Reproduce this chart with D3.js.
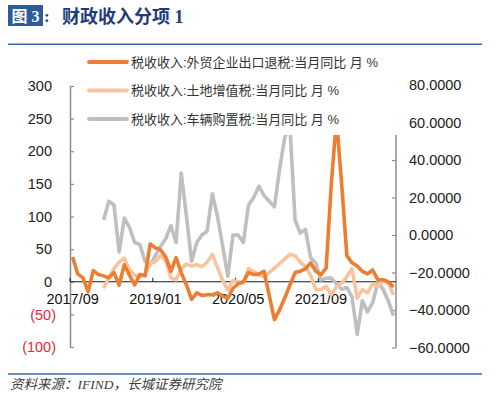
<!DOCTYPE html>
<html lang="zh">
<head>
<meta charset="UTF-8">
<script src="https://d3js.org/d3.v7.min.js"></script>
<style>
    body { margin: 0; background: #fff; }
    svg { display: block; }
    text { font-family: "Liberation Sans", Arial, "Noto Sans CJK SC", sans-serif; }
</style>
</head>
<body>
<svg id="chart" width="500" height="399"></svg>
<script>
    // months 2017/09 .. 2022/11
    const months = [
        "2017/09", "2017/10", "2017/11", "2017/12",
        "2018/01", "2018/02", "2018/03", "2018/04", "2018/05", "2018/06", "2018/07", "2018/08", "2018/09", "2018/10", "2018/11", "2018/12",
        "2019/01", "2019/02", "2019/03", "2019/04", "2019/05", "2019/06", "2019/07", "2019/08", "2019/09", "2019/10", "2019/11", "2019/12",
        "2020/01", "2020/02", "2020/03", "2020/04", "2020/05", "2020/06", "2020/07", "2020/08", "2020/09", "2020/10", "2020/11", "2020/12",
        "2021/01", "2021/02", "2021/03", "2021/04", "2021/05", "2021/06", "2021/07", "2021/08", "2021/09", "2021/10", "2021/11", "2021/12",
        "2022/01", "2022/02", "2022/03", "2022/04", "2022/05", "2022/06", "2022/07", "2022/08", "2022/09", "2022/10", "2022/11"
    ];
    const shownMonths = ["2017/09", "2019/01", "2020/05", "2021/09"];

    // 外贸企业出口退税 (left axis)
    const exportRebate = [
        38, 12, 6, -15, 17, 11, 9, 6, 14, -5, 26, 10, -5, 11, 9, 58,
        52, 49, 38, 16, 37, 14, -5, -27, -17, -21, -20, -20,
        -17, -22, -25, -10, -3, 0, 14, 11, 12, 16, -21, -58,
        -43, -25, -5, 14, 16, 20, 29, 16, 11, 21, 150, 250,
        150, 40, 29, 24, 16, 12, 18, 3, 3, 0, -8
    ];
    // 土地增值税 (left axis)
    const landVat = [
        null, null, null, null, null, null, -10, 6, 20, 30, 36, 18, 10, 8, 11, 28,
        31, 40, 32, 6, 3, 20, 27, 24, 26, 23, 30, 42,
        22, 2, -13, 2, 0, -2, 20, 16, 10, 8, 14, 21,
        28, 35, 42, 40, 30, 23, 10, -12, -12, -7, -20, -8,
        -2, 8, 20, -25, -12, -17, -3, -7, 2, -2, -20
    ];
    // 车辆购置税 (right axis)
    const vehicleTax = [
        null, null, null, null, null, null, 8, 18, 16, -9, 9, 4, -4, -5, -14, -16,
        -11, -6, -2, 5, -4, 33, 10, -14, -4, 0, 2, 22,
        10, -6, -22, 0, 0, -4, 16, 20, 26, 21, 18, 15,
        35, 52, 58, 8, 1, 3, -12, -15, -24, -23, -23, -26,
        -29, -28, -33, -53, -35, -41, -36, -25, -29, -35, -43
    ];

    const leftTicks = [-100, -50, 0, 50, 100, 150, 200, 250, 300];
    const rightTicks = [-60, -40, -20, 0, 20, 40, 60, 80];

    const seriesNames = [
        "税收收入:外贸企业出口退税:当月同比 月 %",
        "税收收入:土地增值税:当月同比 月 %",
        "税收收入:车辆购置税:当月同比 月 %"
    ];
    const colors = ["#ed7d31", "#f8c4a0", "#bfbfbf"];

    const plot = {left: 70, right: 396, top: 135, bottom: 347.5};

    const svg = d3.select("#chart");

    // title
    svg.append("rect").attr("x", 8).attr("y", 5).attr("width", 35).attr("height", 21).attr("fill", "#2e5b9c");
    svg.append("text").attr("x", 25.5).attr("y", 21.5).attr("text-anchor", "middle")
        .attr("fill", "#fff").style("font-family", "'Liberation Serif', 'Noto Sans CJK SC'")
        .style("font-weight", "bold").style("font-size", "16px").text("图 3");
    svg.append("text").attr("x", 44).attr("y", 22)
        .attr("fill", "#1f3c78").style("font-family", "'Liberation Serif', 'Noto Sans CJK SC'")
        .style("font-weight", "bold").style("font-size", "17px").text(":");
    svg.append("text").attr("x", 62).attr("y", 22.5)
        .attr("fill", "#1f3c78").style("font-family", "'Liberation Serif', 'Noto Sans CJK SC'")
        .style("font-weight", "bold").style("font-size", "18px").text("财政收入分项 1");

    svg.append("line").attr("x1", 8).attr("x2", 482).attr("y1", 44.3).attr("y2", 44.3)
        .attr("stroke", "#3a68a8").attr("stroke-width", 1.5);
    svg.append("line").attr("x1", 8).attr("x2", 482).attr("y1", 374).attr("y2", 374)
        .attr("stroke", "#3a68a8").attr("stroke-width", 1.5);

    // scales
    const x = d3.scaleBand().domain(months).range([plot.left, plot.right]);
    const xc = m => x(m) + x.bandwidth() / 2;
    const yL = d3.scaleLinear().domain([-100, 300]).range([347, 86]);
    const yR = d3.scaleLinear().domain([-60, 80]).range([347.5, 85]);

    // left axis
    const leftAxis = svg.append("g")
        .attr("transform", `translate(${plot.left},0)`)
        .call(d3.axisLeft(yL).tickValues(leftTicks).tickSizeInner(-4).tickSizeOuter(0).tickPadding(0)
            .tickFormat(d => d < 0 ? `(${-d})` : d));
    leftAxis.select(".domain").attr("stroke", "#8c8c8c").attr("stroke-width", 1.5);
    leftAxis.selectAll(".tick line").attr("stroke", "#8c8c8c").attr("stroke-width", 1.2);
    leftAxis.selectAll(".tick text")
        .attr("x", d => d < 0 ? -14 : -18)
        .attr("fill", d => d < 0 ? "#e8283c" : "#222")
        .style("font-size", "14.5px").style("font-family", "'Liberation Sans', Arial");

    // right axis
    const rightAxis = svg.append("g")
        .attr("transform", `translate(${plot.right},0)`)
        .call(d3.axisRight(yR).tickValues(rightTicks).tickSizeInner(-4).tickSizeOuter(0).tickPadding(13)
            .tickFormat(d3.format(".4f")));
    rightAxis.select(".domain").remove();
    rightAxis.append("line").attr("x1", 0).attr("x2", 0).attr("y1", plot.top).attr("y2", yR(-60))
        .attr("stroke", "#8c8c8c").attr("stroke-width", 1.5);
    rightAxis.selectAll(".tick line")
        .attr("stroke", "#8c8c8c").attr("stroke-width", 1.2)
        .attr("display", d => yR(d) < plot.top ? "none" : null);
    rightAxis.selectAll(".tick text")
        .attr("fill", "#222")
        .style("font-size", "14.5px").style("font-family", "'Liberation Sans', Arial");

    // zero line + month labels
    const zeroY = yL(0);
    svg.append("line").attr("x1", plot.left).attr("x2", plot.right).attr("y1", zeroY).attr("y2", zeroY)
        .attr("stroke", "#1a1a1a").attr("stroke-width", 1);
    svg.selectAll(".mtick").data(shownMonths).join("line")
        .attr("class", "mtick")
        .attr("x1", d => x(d)).attr("x2", d => x(d))
        .attr("y1", zeroY).attr("y2", zeroY - 4)
        .attr("stroke", "#1a1a1a").attr("stroke-width", 1);
    svg.selectAll(".mlabel").data(shownMonths).join("text")
        .attr("class", "mlabel")
        .attr("x", d => xc(d)).attr("y", 304)
        .attr("text-anchor", "middle").attr("fill", "#111")
        .style("font-size", "14.5px").text(d => d);

    // series
    svg.append("clipPath").attr("id", "plotClip").append("rect")
        .attr("x", plot.left).attr("y", plot.top)
        .attr("width", plot.right - plot.left).attr("height", plot.bottom - plot.top + 10);

    const lineL = d3.line().defined(d => d[1] != null).x(d => xc(d[0])).y(d => yL(d[1]));
    const lineR = d3.line().defined(d => d[1] != null).x(d => xc(d[0])).y(d => yR(d[1]));
    const pairs = vals => months.map((m, i) => [m, vals[i]]);

    const lines = svg.append("g").attr("clip-path", "url(#plotClip)");
    lines.append("path").attr("d", lineR(pairs(vehicleTax)))
        .attr("fill", "none").attr("stroke", colors[2]).attr("stroke-width", 3.6).attr("stroke-linejoin", "round");
    lines.append("path").attr("d", lineL(pairs(landVat)))
        .attr("fill", "none").attr("stroke", colors[1]).attr("stroke-width", 3.6).attr("stroke-linejoin", "round");
    lines.append("path").attr("d", lineL(pairs(exportRebate)))
        .attr("fill", "none").attr("stroke", colors[0]).attr("stroke-width", 3.6).attr("stroke-linejoin", "round");

    // legend
    const legend = svg.selectAll(".legend").data(seriesNames).join("g")
        .attr("class", "legend")
        .attr("transform", (d, i) => `translate(89, ${62 + i * 28.5})`);
    legend.append("line").attr("x1", 0).attr("x2", 38).attr("y1", 0).attr("y2", 0)
        .attr("stroke", (d, i) => colors[i]).attr("stroke-width", 3.8).attr("stroke-linecap", "round");
    legend.append("text").attr("x", 42).attr("y", 0).attr("dy", "0.35em")
        .attr("fill", "#333").style("font-size", "13px")
        .style("font-family", "'Liberation Sans', 'Noto Sans CJK SC'")
        .text(d => d);

    // source
    svg.append("text").attr("x", 10).attr("y", 389)
        .attr("fill", "#404040").style("font-style", "italic").style("font-size", "13.5px")
        .style("font-family", "'Liberation Serif', 'Noto Sans CJK SC'")
        .text("资料来源：IFIND，长城证券研究院");
</script>
</body>
</html>
